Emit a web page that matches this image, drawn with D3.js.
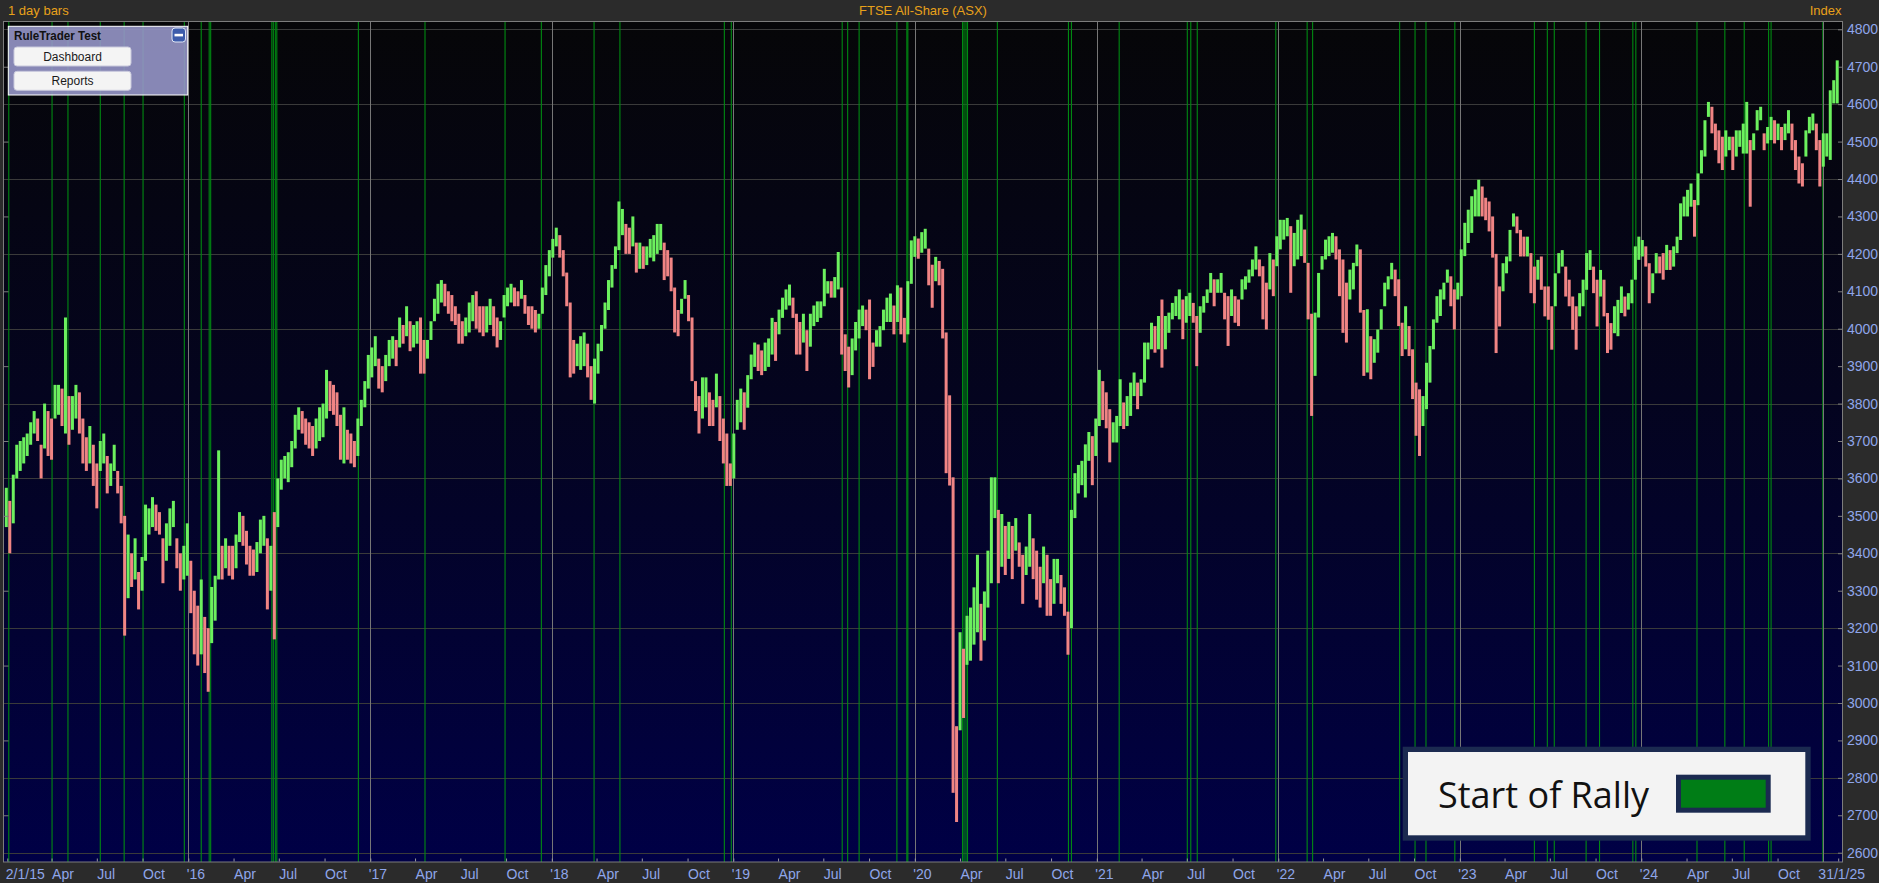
<!DOCTYPE html>
<html><head><meta charset="utf-8">
<script src="https://cdn.jsdelivr.net/npm/d3@7"></script>
<style>
html,body{margin:0;padding:0;background:#2b2b2b;overflow:hidden}
svg{display:block}
</style></head><body>
<svg id="chart" width="1879" height="883"></svg>
<script>
// ---------- DATA (weekly high / low of the index) ----------
const firstWeekEnd = "2015-01-02";   // Friday of first weekly bar, then one bar per week
const weeklyHigh = [
// 2015
3575,3540,3610,3690,3700,3710,3720,3750,3780,3760,3690,3800,3780,3760,3850,3850,3840,4030,3820,3820,3850,3830,3760,3710,3740,3690,3640,3700,3720,3660,3640,3690,3620,3580,3500,3450,3400,3440,3350,3390,3530,3520,3550,3530,3510,3440,3480,3520,3540,3440,3400,3420,
// 2016
3480,3380,3300,3260,3330,3230,3200,3310,3340,3675,3420,3440,3420,3420,3450,3510,3500,3460,3420,3410,3430,3490,3500,3440,3420,3510,3600,3650,3660,3670,3700,3770,3790,3780,3760,3750,3740,3760,3790,3800,3890,3860,3850,3830,3770,3790,3730,3720,3700,3760,3810,3860,3930,
// 2017
3950,3980,3920,3900,3930,3970,3980,3970,4030,4010,4060,4020,4010,4020,4030,3970,3970,4020,4080,4120,4130,4120,4100,4090,4060,4040,4020,4030,4070,4090,4100,4060,4060,4060,4080,4060,4030,4020,4090,4110,4120,4110,4100,4130,4090,4060,4060,4050,4040,4110,4170,4210,
// 2018
4240,4270,4250,4210,4150,4070,3970,3960,3980,3990,3960,3900,3920,3960,4010,4070,4130,4170,4220,4340,4320,4280,4270,4300,4230,4230,4220,4220,4240,4250,4280,4280,4230,4210,4190,4110,4050,4080,4130,4090,4030,3860,3820,3870,3870,3830,3810,3880,3820,3760,3720,3640,
// 2019
3720,3810,3840,3830,3876,3931,3963,3958,3942,3963,3974,4029,4018,4051,4083,4105,4118,4083,4040,4018,4040,3996,4040,4062,4073,4073,4160,4127,4127,4138,4205,4110,3985,3952,3974,4018,4051,4062,4051,4078,3963,3996,4007,4051,4083,4094,4062,4116,4110,4029,4127,4236,
// 2020
4247,4241,4258,4267,4214,4171,4192,4181,4160,3990,3822,3603,2938,3189,3145,3233,3255,3309,3396,3265,3298,3407,3603,3603,3516,3505,3473,3484,3473,3494,3429,3396,3418,3505,3440,3407,3364,3418,3396,3331,3385,3385,3342,3309,3244,3516,3614,3636,3647,3691,3724,3713,
// 2021
3760,3890,3860,3830,3785,3750,3767,3865,3803,3820,3856,3883,3856,3865,3963,3963,4016,4007,4034,4078,4034,4043,4069,4087,4105,4078,4087,4096,4069,4034,4060,4087,4105,4149,4132,4132,4149,4096,4087,4105,4087,4078,4132,4140,4158,4185,4220,4185,4167,4123,4202,4185,4247,
// 2022
4291,4291,4296,4274,4256,4291,4305,4265,4176,4040,4043,4149,4194,4238,4247,4256,4247,4212,4185,4123,4158,4176,4225,4212,4050,4052,3980,3972,3998,4052,4123,4140,4176,4158,4132,4016,4060,4007,3945,3856,3838,3820,3909,3954,4025,4087,4105,4123,4158,4140,4105,4123,
// 2023
4212,4283,4318,4354,4372,4398,4380,4350,4340,4300,4200,4113,4175,4193,4264,4308,4300,4264,4246,4246,4202,4166,4184,4193,4113,4113,4060,4148,4202,4210,4166,4131,4086,4060,4095,4131,4202,4210,4166,4131,4157,4131,4042,4015,4060,4077,4113,4086,4095,4131,4220,4246,
// 2024
4237,4220,4175,4148,4202,4193,4202,4224,4210,4220,4246,4335,4353,4371,4388,4344,4415,4477,4557,4606,4593,4548,4530,4513,4530,4513,4513,4530,4530,4548,4606,4504,4522,4584,4593,4522,4539,4566,4557,4548,4539,4548,4584,4548,4504,4460,4442,4530,4566,4575,4548,4504,
// 2025
4522,4522,4637,4664,4717
];
const weeklyLow = [
// 2015
3470,3400,3480,3600,3620,3640,3660,3690,3720,3700,3600,3680,3660,3650,3760,3770,3740,3720,3690,3730,3760,3720,3640,3620,3640,3580,3520,3620,3640,3560,3580,3620,3560,3480,3180,3280,3310,3330,3250,3300,3380,3450,3470,3460,3450,3320,3380,3420,3470,3360,3300,3330,
// 2016
3340,3240,3130,3100,3130,3080,3030,3160,3220,3330,3330,3360,3340,3330,3360,3430,3420,3370,3340,3340,3350,3400,3420,3250,3300,3170,3470,3570,3600,3590,3630,3680,3730,3720,3690,3680,3660,3680,3700,3710,3760,3780,3770,3740,3650,3640,3650,3640,3630,3660,3740,3790,3840,
// 2017
3870,3900,3840,3830,3860,3900,3920,3900,3950,3960,3980,3940,3950,3960,3880,3880,3920,3970,4020,4040,4070,4060,4040,4020,4010,3960,3960,3980,3990,4020,4000,3990,3980,3990,4010,3980,3950,3970,4030,4060,4070,4060,4060,4080,4040,4010,4000,3990,4000,4040,4090,4140,
// 2018
4190,4220,4190,4140,4060,3870,3880,3900,3890,3900,3870,3810,3800,3880,3940,4000,4050,4110,4160,4210,4250,4200,4200,4220,4150,4160,4160,4170,4190,4180,4200,4210,4130,4140,4100,3990,3980,4040,4080,4020,3860,3780,3720,3760,3790,3740,3740,3790,3700,3640,3580,3580,
// 2019
3600,3730,3750,3730,3789,3865,3898,3887,3876,3887,3898,3931,3914,3985,4029,4051,4062,4029,3931,3931,3963,3887,3952,4007,4018,4029,4060,4094,4083,4083,4105,3931,3887,3843,3876,3942,3974,4007,3996,3865,3898,3952,3952,3996,4018,4018,3985,4018,3985,3963,3985,4120,
// 2020
4192,4187,4203,4214,4116,4056,4127,4116,3974,3614,3581,2760,2682,2927,2960,3102,3113,3156,3189,3113,3167,3255,3320,3494,3320,3364,3342,3385,3331,3407,3364,3265,3342,3364,3331,3276,3255,3320,3233,3233,3265,3320,3265,3233,3129,3200,3494,3560,3582,3549,3647,3582,
// 2021
3660,3740,3756,3734,3643,3696,3696,3740,3732,3740,3767,3820,3785,3820,3856,3918,3945,3936,3945,3896,3945,3989,4025,4034,4025,3972,4016,4034,4016,3900,3989,4043,4069,4096,4060,4096,4096,4025,3954,4034,4016,4007,4078,4105,4123,4140,4158,4140,4025,3998,4105,4087,4167,
// 2022
4212,4238,4247,4096,4167,4185,4194,4176,4025,3767,3874,4030,4158,4185,4194,4203,4185,4087,3989,3963,4078,4105,4167,4043,3874,3883,3865,3909,3936,3998,4060,4105,4132,4087,4007,3927,3945,3927,3812,3714,3660,3740,3785,3856,3945,4016,4034,4078,4123,4060,3998,4078,
// 2023
4087,4194,4229,4256,4300,4300,4300,4290,4260,4190,3935,4006,4100,4148,4180,4273,4255,4193,4193,4193,4095,4068,4131,4104,4033,4024,3944,4060,4148,4166,4086,4060,3997,3944,4033,4060,4104,4157,4095,4006,4086,4033,3935,3944,3988,3980,4042,4033,4051,4068,4131,4184,
// 2024
4193,4166,4068,4095,4148,4148,4131,4157,4157,4166,4202,4237,4300,4300,4326,4246,4330,4415,4460,4566,4522,4477,4442,4424,4460,4477,4424,4460,4486,4468,4468,4326,4477,4530,4557,4477,4495,4504,4495,4504,4477,4504,4522,4477,4424,4388,4380,4460,4522,4530,4477,4380,
// 2025
4433,4460,4451,4602,4602
];
// "Start of Rally" signal dates (green vertical lines)
const rallyStarts = ["2015-01-05","2015-04-02","2015-05-04","2015-07-08","2015-08-25","2015-10-02","2015-12-24",
"2016-01-27","2016-02-12","2016-02-15","2016-06-17","2016-06-20","2016-06-24","2016-06-27","2016-12-08",
"2017-04-21","2017-09-29","2017-12-11","2018-03-27","2018-05-18","2018-12-14","2018-12-28",
"2019-08-08","2019-08-19","2019-09-11","2019-11-26","2019-12-16","2019-12-18",
"2020-04-06","2020-04-09","2020-04-13","2020-04-16","2020-06-15","2020-11-05","2020-11-11",
"2021-02-15","2021-07-02","2021-07-09","2021-07-22","2021-12-27",
"2022-02-28","2022-03-11","2022-09-02","2022-10-03","2022-10-25","2022-12-22",
"2023-05-31","2023-06-26","2023-07-10","2023-09-12","2023-10-09","2023-12-15","2023-12-21",
"2024-04-22","2024-06-17","2024-07-26","2024-09-13","2024-09-18","2024-12-31"];
const yTickValues = [2600,2700,2800,2900,3000,3100,3200,3300,3400,3500,3600,3700,3800,3900,4000,4100,4200,4300,4400,4500,4600,4700,4800];
const quarterLabels = {3:"Apr",6:"Jul",9:"Oct"};
const firstDate = "2015-01-02", firstDateLabel = "2/1/15";
const lastDate = "2025-01-31", lastDateLabel = "31/1/25";
const barLabel = "1 day bars", chartTitle = "FTSE All-Share (ASX)", unitLabel = "Index";
const legendLabel = "Start of Rally";
const panelTitle = "RuleTrader Test", panelButtons = ["Dashboard","Reports"];

// ---------- LAYOUT ----------
const W = 1879, H = 883;
const P = {left:3.5, right:1842.5, top:21.5, bottom:862};
const parse = d3.utcParse("%Y-%m-%d");
const x = d3.scaleUtc().domain([Date.UTC(2015,0,1), Date.UTC(2025,0,1)]).range([6.8, 1823.3]);
const y = d3.scaleLinear().domain([2600,4800]).range([852.7,29.3]);
const svg = d3.select("#chart");
const FONT = "'Liberation Sans', Arial, sans-serif";

const defs = svg.append("defs");
const grad = defs.append("linearGradient").attr("id","bg").attr("x1",0).attr("y1",0).attr("x2",0).attr("y2",1);
grad.append("stop").attr("offset","0%").attr("stop-color","#060608");
grad.append("stop").attr("offset","45%").attr("stop-color","#04041f");
grad.append("stop").attr("offset","100%").attr("stop-color","#000046");
defs.append("clipPath").attr("id","plotclip").append("rect")
  .attr("x",P.left).attr("y",P.top).attr("width",P.right-P.left).attr("height",P.bottom-P.top);

svg.append("rect").attr("width",W).attr("height",H).attr("fill","#2b2b2b");
svg.append("rect").attr("x",P.left).attr("y",P.top).attr("width",P.right-P.left).attr("height",P.bottom-P.top).attr("fill","url(#bg)");

const plot = svg.append("g").attr("clip-path","url(#plotclip)");

// horizontal gridlines (every 200)
plot.append("g").selectAll("line").data(yTickValues.filter(v => v % 200 === 0)).join("line")
  .attr("x1",P.left).attr("x2",P.right)
  .attr("y1",d => Math.round(y(d))+0.5).attr("y2",d => Math.round(y(d))+0.5)
  .attr("stroke","#3a3a3a").attr("stroke-width",1);

// rally lines
plot.append("g").selectAll("line").data(rallyStarts.map(parse)).join("line")
  .attr("x1",d => x(d)).attr("x2",d => x(d))
  .attr("y1",P.top).attr("y2",P.bottom)
  .attr("stroke","#008a12").attr("stroke-width",1.1);

// year separators
const years = d3.range(2016,2026).map(yy => new Date(Date.UTC(yy,0,1)));
plot.append("g").selectAll("line").data(years).join("line")
  .attr("x1",d => Math.round(x(d))+0.5).attr("x2",d => Math.round(x(d))+0.5)
  .attr("y1",P.top).attr("y2",P.bottom)
  .attr("stroke","#767676").attr("stroke-width",1);

// bars
const start = parse(firstWeekEnd);
const bars = weeklyHigh.map((h,i) => ({date: d3.utcDay.offset(start, 7*i - 2), hi:h, lo:weeklyLow[i]}));
bars.forEach((b,i) => {
  const mid = (b.hi+b.lo)/2;
  const prev = i ? (bars[i-1].hi+bars[i-1].lo)/2 : mid;
  b.up = mid >= prev;
});
plot.append("g").selectAll("rect").data(bars).join("rect")
  .attr("x",d => x(d.date)-1.5).attr("width",3)
  .attr("y",d => y(d.hi)).attr("height",d => Math.max(1,y(d.lo)-y(d.hi)))
  .attr("fill",d => d.up ? "#6cf05e" : "#f08484");

// frame
svg.append("rect").attr("x",P.left).attr("y",P.top).attr("width",P.right-P.left).attr("height",P.bottom-P.top)
  .attr("fill","none").attr("stroke","#7c7c7c").attr("stroke-width",1);

// y axis (right)
const yAxis = d3.axisRight(y).tickValues(yTickValues).tickSize(-4).tickPadding(5).tickFormat(d3.format("d"));
const gy = svg.append("g").attr("transform",`translate(${P.right-0.5},0)`).call(yAxis);
gy.select(".domain").remove();
gy.selectAll("line").attr("stroke","#7c7c7c");
gy.selectAll("text").attr("fill","#8fa6ea").attr("font-family",FONT).attr("font-size",14);
// left minor ticks
const gyl = svg.append("g").attr("transform",`translate(${P.left},0)`)
  .call(d3.axisLeft(y).tickValues(yTickValues.filter(v => v % 200 !== 0)).tickSize(-5).tickFormat(""));
gyl.select(".domain").remove();
gyl.selectAll("line").attr("stroke","#7c7c7c");

// x axis (bottom)
const xTicks = [parse(firstDate)]
  .concat(d3.utcMonth.range(new Date(Date.UTC(2015,3,1)), new Date(Date.UTC(2025,0,1)), 3))
  .concat([parse(lastDate)]);
const fmt = d => {
  if (+d === +parse(firstDate)) return firstDateLabel;
  if (+d === +parse(lastDate)) return lastDateLabel;
  return d.getUTCMonth() === 0 ? "'" + String(d.getUTCFullYear()).slice(2) : quarterLabels[d.getUTCMonth()];
};
const xAxis = d3.axisBottom(x).tickValues(xTicks).tickSize(-3).tickFormat(fmt);
const gx = svg.append("g").attr("transform",`translate(0,${P.bottom-0.5})`).call(xAxis);
gx.select(".domain").remove();
gx.selectAll("line").attr("stroke","#9a9a9a");
gx.selectAll("text").attr("fill","#8fa6ea").attr("font-family",FONT).attr("font-size",14)
  .attr("y",17).attr("dy",0)
  .attr("text-anchor",d => +d === +parse(lastDate) ? "middle" : "start")
  .attr("x",d => +d === +parse(firstDate) ? -2 : (+d === +parse(lastDate) ? 3 : (d.getUTCMonth()===0 ? -2 : 0)));

// header
svg.append("text").attr("x",8).attr("y",15).text(barLabel)
  .attr("fill","#e8a11a").attr("font-family",FONT).attr("font-size",13);
svg.append("text").attr("x",(P.left+P.right)/2).attr("y",15).attr("text-anchor","middle").text(chartTitle)
  .attr("fill","#e8a11a").attr("font-family",FONT).attr("font-size",13);
svg.append("text").attr("x",P.right-1).attr("y",15).attr("text-anchor","end").text(unitLabel)
  .attr("fill","#e8a11a").attr("font-family",FONT).attr("font-size",13);

// legend
const lg = svg.append("g");
lg.append("rect").attr("x",1402.7).attr("y",746.7).attr("width",408).attr("height",94).attr("fill","#1b2a50");
lg.append("rect").attr("x",1408).attr("y",752).attr("width",397.3).attr("height",83.3).attr("fill","#f3f3f3");
lg.append("text").attr("x",1438).attr("y",808.3).text(legendLabel)
  .attr("font-family","'Open Sans', 'Noto Sans', sans-serif").attr("font-size",36).attr("fill","#111");
lg.append("rect").attr("x",1676).attr("y",774.7).attr("width",94.7).attr("height",38).attr("fill","#1b2a50");
lg.append("rect").attr("x",1681).attr("y",779.7).attr("width",84.7).attr("height",28).attr("fill","#007d16");

// RuleTrader panel
const pn = svg.append("g");
pn.append("rect").attr("x",8.3).attr("y",26.3).attr("width",179.4).attr("height",68.7)
  .attr("fill","rgb(150,150,200)").attr("fill-opacity",0.9).attr("stroke","#ffffff").attr("stroke-width",1);
pn.append("text").attr("x",14).attr("y",40).text(panelTitle)
  .attr("font-family",FONT).attr("font-weight","bold").attr("font-size",12).attr("fill","#111")
  .attr("textLength",87).attr("lengthAdjust","spacingAndGlyphs");
const mb = pn.append("g");
mb.append("rect").attr("x",172).attr("y",28).attr("width",13.5).attr("height",14).attr("rx",3)
  .attr("fill","#3d5cab").attr("stroke","#dfe6f5").attr("stroke-width",1);
mb.append("rect").attr("x",174.5).attr("y",33.8).attr("width",8.5).attr("height",2.6).attr("fill","#ffffff");
pn.selectAll("g.btn").data(panelButtons).join("g").attr("class","btn").each(function(d,i){
  const g = d3.select(this);
  const by = 47 + i*24.3;
  g.append("rect").attr("x",14).attr("y",by).attr("width",117).attr("height",19).attr("rx",3)
    .attr("fill","#f4f4f4").attr("stroke","#c9c9dc").attr("stroke-width",1);
  g.append("text").attr("x",72.5).attr("y",by+14).attr("text-anchor","middle").text(d)
    .attr("font-family",FONT).attr("font-size",12).attr("fill","#1a1a1a");
});
</script>
</body></html>
